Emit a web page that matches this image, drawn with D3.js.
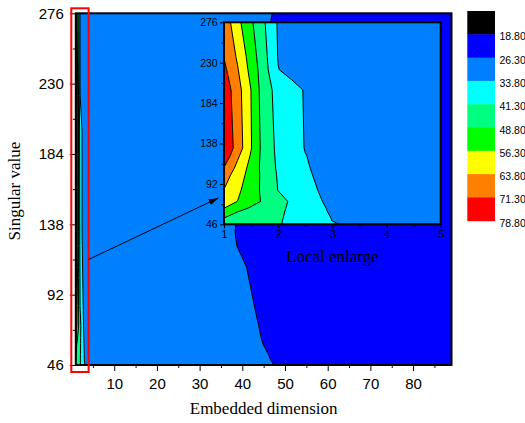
<!DOCTYPE html>
<html>
<head>
<meta charset="utf-8">
<script src="https://cdn.jsdelivr.net/npm/d3@7"></script>
<style>
  body { margin: 0; background: #fff; }
  svg { display: block; }
</style>
</head>
<body>
<svg id="chart" width="525" height="423"></svg>
<script>
// Embedded dimension (columns of the value grid)
const dims = [1, 1.25, 1.5, 1.75, 2, 2.25, 2.5, 2.75, 3, 3.25, 20, 36, 38, 40, 42, 44, 46, 48, 50, 89];
// Singular value (rows of the value grid)
const singular = [46, 50, 53, 60, 64, 72, 85, 103, 110, 124, 133, 199, 222, 237, 276];
// Values, one row per singular value, one entry per embedded dimension
const z46  = [47.0, 45.7, 44.4, 43.0, 41.7, 40.1, 38.3, 36.6, 34.8, 32.9, 30, 30,   30,   30,   30,   29.7, 27.7, 25.7, 23.7, 20];
const z50  = [47.5, 46.1, 44.7, 43.3, 41.9, 40.0, 37.9, 35.8, 33.7, 31.5, 30, 30,   30,   30,   30,   28.8, 26.8, 24.8, 22.8, 20];
const z53  = [48.7, 47.1, 45.4, 43.7, 42.0, 40.1, 37.9, 35.7, 33.6, 31.5, 30, 30,   30,   30,   30,   28.4, 26.4, 24.4, 22.4, 20];
const z60  = [53.6, 48.7, 46.7, 44.5, 42.4, 40.1, 37.7, 35.3, 33.0, 31.3, 30, 30,   30,   30,   29.1, 27.1, 25.1, 23.1, 22,   20];
const z64  = [56.2, 51.5, 47.7, 45.2, 42.7, 40.2, 37.6, 35.0, 32.8, 31.2, 30, 30,   30,   30,   28.7, 26.7, 24.7, 22.7, 22,   20];
const z72  = [59.2, 56.2, 51.7, 47.5, 43.7, 40.3, 37.3, 34.4, 32.2, 31.0, 30, 30,   30,   30,   28.1, 26.1, 24.1, 22.1, 22,   20];
const z85  = [63.6, 57.8, 52.2, 46.7, 41.1, 38.6, 36.1, 33.6, 32.0, 31.0, 30, 30,   30,   29.1, 27.1, 25.1, 23.1, 22,   22,   20];
const z103 = [67.5, 60.3, 53.2, 46.3, 40.6, 37.9, 35.2, 32.5, 31.2, 30.2, 30, 30,   29.8, 27.8, 25.8, 23.8, 22,   22,   22,   20];
const z110 = [71.0, 61.6, 53.8, 45.6, 40.3, 37.6, 34.8, 32.0, 31.0, 30.2, 30, 30,   29.3, 27.3, 25.3, 23.3, 22,   22,   22,   20];
const z124 = [76.5, 65.2, 55.5, 45.2, 40.0, 37.0, 34.0, 32.3, 31.0, 30.2, 30, 29.0, 27.0, 25.0, 23.0, 22,   22,   22,   22,   20];
const z133 = [78.0, 68.2, 56.7, 45.0, 39.8, 36.7, 33.5, 32.0, 31.0, 30.2, 30, 28.6, 26.6, 24.6, 22.6, 22,   22,   22,   22,   20];
const z199 = [76.2, 66.8, 56.2, 43.8, 39.3, 36.1, 33.3, 31.5, 30.5, 30.0, 30, 30,   28.8, 26.8, 24.8, 22.8, 22,   22,   22,   20];
const z222 = [73.0, 64.4, 53.8, 43.9, 34.0, 31.5, 30.5, 30.0, 30.0, 30.0, 30, 30,   30,   29.3, 27.3, 25.3, 23.3, 22,   22,   20];
const z237 = [71.0, 62.8, 52.6, 43.2, 33.4, 31.5, 30.5, 30.0, 30.0, 30.0, 30, 30,   30,   30,   28.8, 26.8, 24.8, 22.8, 22,   20];
const z276 = [68.8, 58.4, 50.0, 41.6, 33.0, 31.5, 30.5, 30.0, 30.0, 30.0, 30, 30,   30,   30,   30,   29.3, 27.3, 25.3, 23.3, 20];
const zRows = [z46, z50, z53, z60, z64, z72, z85, z103, z110, z124, z133, z199, z222, z237, z276];

// Contour levels and colour scale
const levels = [18.8, 26.3, 33.8, 41.3, 48.8, 56.3, 63.8, 71.3, 78.8];
const levelLabels = ["18.80", "26.30", "33.80", "41.30", "48.80", "56.30", "63.80", "71.30", "78.80"];
const bandColors = ["#000000", "#0000ff", "#0080ff", "#00ffff", "#00ff80", "#00ff00", "#ffff00", "#ff8000", "#ff0000"];

// Tick values
const xTicks = [10, 20, 30, 40, 50, 60, 70, 80];
const xMinorTicks = [5, 15, 25, 35, 45, 55, 65, 75, 85];
const yTicks = [46, 92, 138, 184, 230, 276];
const yMinorTicks = [69, 115, 161, 207, 253];
const insetXTicks = [1, 2, 3, 4, 5];
const insetXMinorTicks = [1.5, 2.5, 3.5, 4.5];

const svg = d3.select("#chart");
const sansFont = "'Liberation Sans', Arial, sans-serif";
const serifFont = "'Liberation Serif', 'Times New Roman', serif";

const mainX = d3.scaleLinear().domain([1, 89]).range([75.8, 451.5]);
const mainY = d3.scaleLinear().domain([46, 276]).range([365, 13.3]);
const insetX = d3.scaleLinear().domain([1, 5]).range([224, 440.7]);
const insetY = d3.scaleLinear().domain([46, 276]).range([224.3, 22.3]);

// Contour bands computed on the grid, in grid index space
const n = dims.length, m = singular.length;
const contourSet = d3.contours().size([n, m]).thresholds(levels.slice(0, 8))(zRows.flat());
const gx = d3.scaleLinear().domain(dims.map((d, i) => i + 0.5)).range(dims).clamp(true);
const gy = d3.scaleLinear().domain(singular.map((d, i) => i + 0.5)).range(singular).clamp(true);

function drawPanel(id, xs, ys) {
  const [x0, x1] = xs.range(), [y0, y1] = ys.range();
  svg.append("clipPath").attr("id", id)
    .append("rect").attr("x", x0).attr("y", y1).attr("width", x1 - x0).attr("height", y0 - y1);
  const g = svg.append("g").attr("clip-path", `url(#${id})`);
  const proj = d3.geoTransform({
    point(x, y) { this.stream.point(xs(gx(x)), ys(gy(y))); }
  });
  const path = d3.geoPath(proj);
  g.append("rect").attr("x", x0).attr("y", y1).attr("width", x1 - x0).attr("height", y0 - y1)
    .attr("fill", bandColors[0]);
  g.selectAll("path").data(contourSet).join("path")
    .attr("d", path)
    .attr("fill", (d, i) => bandColors[i + 1])
    .attr("stroke", "#000")
    .attr("stroke-width", 1)
    .attr("stroke-linejoin", "round");
  return g;
}

function frame(xs, ys) {
  const [x0, x1] = xs.range(), [y0, y1] = ys.range();
  svg.append("rect").attr("x", x0).attr("y", y1).attr("width", x1 - x0).attr("height", y0 - y1)
    .attr("fill", "none").attr("stroke", "#000").attr("stroke-width", 2);
}

function styleAxis(g, size) {
  g.select(".domain").remove();
  g.selectAll("line").attr("stroke", "#000").attr("stroke-width", 1);
  g.selectAll("text").attr("font-family", sansFont).attr("font-size", size).attr("fill", "#000");
}

// ---- main plot ----
drawPanel("clip-main", mainX, mainY);
frame(mainX, mainY);

svg.append("g").attr("transform", `translate(0,${mainY(46)})`)
  .call(d3.axisBottom(mainX).tickValues(xTicks).tickSize(6).tickPadding(7).tickFormat(d3.format("d")))
  .call(g => styleAxis(g, 15));
svg.append("g").attr("transform", `translate(0,${mainY(46)})`)
  .call(d3.axisBottom(mainX).tickValues(xMinorTicks).tickSize(3).tickFormat(""))
  .call(g => styleAxis(g, 15));
svg.append("g").attr("transform", `translate(${mainX(1)},0)`)
  .call(d3.axisLeft(mainY).tickValues(yTicks).tickSize(6).tickPadding(6).tickFormat(d3.format("d")))
  .call(g => styleAxis(g, 15));
svg.append("g").attr("transform", `translate(${mainX(1)},0)`)
  .call(d3.axisLeft(mainY).tickValues(yMinorTicks).tickSize(3).tickFormat(""))
  .call(g => styleAxis(g, 15));

svg.append("text")
  .attr("transform", `translate(20,${(mainY(46) + mainY(276)) / 2 + 2}) rotate(-90)`)
  .attr("text-anchor", "middle")
  .attr("font-family", serifFont).attr("font-size", 17).attr("fill", "#000")
  .text("Singular value");
svg.append("text")
  .attr("x", (mainX(1) + mainX(89)) / 2).attr("y", 414)
  .attr("text-anchor", "middle")
  .attr("font-family", serifFont).attr("font-size", 17).attr("fill", "#000")
  .text("Embedded dimension");

// Highlighted strip of low embedded dimensions
svg.append("rect")
  .attr("x", mainX(1) - 4.5).attr("y", mainY(276) - 5)
  .attr("width", mainX(4) - mainX(1) + 4.5)
  .attr("height", mainY(46) - mainY(276) + 12)
  .attr("fill", "none").attr("stroke", "#ff0000").attr("stroke-width", 2);

// ---- inset: local enlargement ----
drawPanel("clip-inset", insetX, insetY);
frame(insetX, insetY);

svg.append("g").attr("transform", `translate(0,${insetY(46)})`)
  .call(d3.axisBottom(insetX).tickValues(insetXTicks).tickSize(4).tickPadding(2.5).tickFormat(d3.format("d")))
  .call(g => styleAxis(g, 10.5));
svg.append("g").attr("transform", `translate(0,${insetY(46)})`)
  .call(d3.axisBottom(insetX).tickValues(insetXMinorTicks).tickSize(2.5).tickFormat(""))
  .call(g => styleAxis(g, 10.5));
svg.append("g").attr("transform", `translate(${insetX(1)},0)`)
  .call(d3.axisLeft(insetY).tickValues(yTicks).tickSize(4).tickPadding(2.3).tickFormat(d3.format("d")))
  .call(g => styleAxis(g, 10.5));
svg.append("g").attr("transform", `translate(${insetX(1)},0)`)
  .call(d3.axisLeft(insetY).tickValues(yMinorTicks).tickSize(2.5).tickFormat(""))
  .call(g => styleAxis(g, 10.5));

svg.append("text")
  .attr("x", (insetX(1) + insetX(5)) / 2).attr("y", 261.5)
  .attr("text-anchor", "middle")
  .attr("font-family", serifFont).attr("font-size", 17).attr("fill", "#000")
  .text("Local enlarge");

// Arrow from the highlighted strip to the inset
svg.append("defs").append("marker")
  .attr("id", "arrowhead").attr("viewBox", "0 0 10 6")
  .attr("refX", 10).attr("refY", 3)
  .attr("markerWidth", 10).attr("markerHeight", 6)
  .attr("markerUnits", "userSpaceOnUse").attr("orient", "auto")
  .append("path").attr("d", "M0,0L10,3L0,6Z").attr("fill", "#000");
svg.append("line")
  .attr("x1", mainX(4)).attr("y1", mainY(115))
  .attr("x2", insetX(1) - 5.5).attr("y2", insetY(76))
  .attr("stroke", "#000").attr("stroke-width", 1)
  .attr("marker-end", "url(#arrowhead)");

// ---- colour scale legend ----
const legendY = d3.scaleLinear().domain([0, bandColors.length]).range([11, 220.7]);
const legend = svg.append("g");
legend.selectAll("rect").data(bandColors).join("rect")
  .attr("x", 467.3).attr("width", 27.7)
  .attr("y", (d, i) => legendY(i))
  .attr("height", (d, i) => legendY(i + 1) - legendY(i) + 0.5)
  .attr("fill", d => d);
legend.selectAll("text").data(levelLabels).join("text")
  .attr("x", 499.5)
  .attr("y", (d, i) => legendY(i + 1) + 6)
  .attr("font-family", sansFont).attr("font-size", 10.5).attr("fill", "#000")
  .text(d => d);
</script>
</body>
</html>
